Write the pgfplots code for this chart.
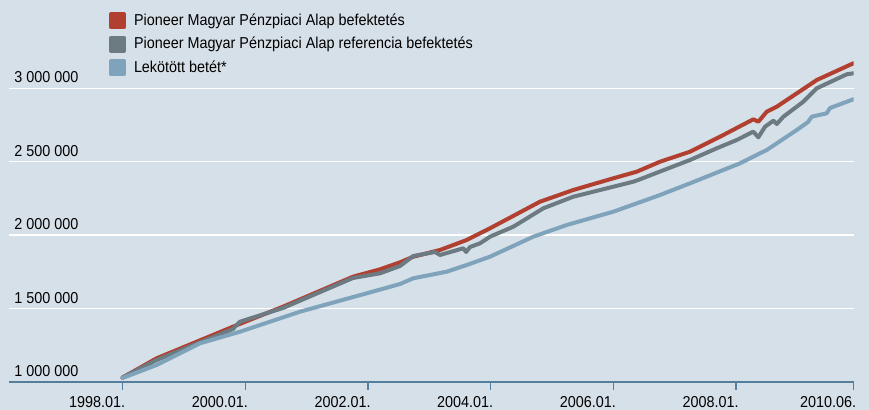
\documentclass[border=0pt]{standalone}
\usepackage{fontspec}
\setmainfont{Liberation Sans}[FakeStretch=0.91]
\usepackage{pgfplots}
\pgfplotsset{compat=1.18}
\definecolor{bg}{RGB}{214,224,232}
\definecolor{redc}{RGB}{178,64,48}
\definecolor{greyc}{RGB}{108,122,130}
\definecolor{bluec}{RGB}{127,163,186}
\definecolor{axisc}{RGB}{84,128,156}

\begin{document}
\fontsize{7.9}{9.5}\selectfont
\begin{tikzpicture}
\fill[bg] (0,0) rectangle (434.5pt,205pt);
\path[use as bounding box] (0,0) rectangle (434.5pt,205pt);
\begin{axis}[
  at={(4.5pt,14pt)}, anchor=south west,
  scale only axis, width=422.25pt, height=190.9pt,
  xmin=1996.150, xmax=2009.915,
  ymin=1000000, ymax=3600000,
  axis x line*=bottom, axis y line*=left,
  y axis line style={draw=none},
  x axis line style={axisc, line width=0.65pt},
  ytick={1000000,1500000,2000000,2500000,3000000},
  yticklabels={1 000 000,1 500 000,2 000 000,2 500 000,3 000 000},
  ymajorgrids, major grid style={white, line width=0.65pt},
  ytick style={draw=none},
  xtick={1998,2000,2002,2004,2006,2008,2009.915},
  xticklabels={1998.01.,2000.01.,2002.01.,2004.01.,2006.01.,2008.01.,2010.06.},
  tick align=outside, major tick length=4pt,
  xtick style={axisc, line width=0.65pt},
  xticklabel style={anchor=north east, inner sep=0pt, xshift=1.5pt, yshift=-3pt},
  yticklabel style={anchor=south west, inner sep=0pt, xshift=6.5pt, yshift=2.5pt},
  scaled ticks=false,
  legend style={at={(axis cs:1997.78,3517600)}, anchor=north west, draw=none, fill=none,
    inner sep=0pt, outer sep=0pt, row sep=3.25pt,
    nodes={inner sep=0pt, text height=6.5pt, text depth=2pt}},
  legend cell align=left,
  legend image code/.code={\fill[#1] (0pt,-3.25pt) rectangle (6.5pt,3.25pt); \path (10.5pt,0pt);},
  every axis plot/.append style={line width=2pt, line join=round, line cap=round},
]
\addplot[color=redc] coordinates {
(1998.000,1030000) (1998.557,1161400) (1999.801,1376600) (2000.616,1512800)
(2001.757,1717100) (2002.198,1767400) (2002.524,1815100) (2002.740,1853300)
(2003.175,1898900) (2003.611,1967000) (2003.990,2046700) (2004.805,2227800)
(2005.348,2307500) (2006.000,2387100) (2006.382,2432100) (2006.762,2500200)
(2007.251,2568300) (2007.740,2670400) (2008.282,2788900) (2008.364,2772600)
(2008.501,2840700) (2008.664,2874700) (2009.153,3010900) (2009.316,3056500)
(2009.913,3170300)
};
\addlegendentry{Pioneer Magyar Pénzpiaci Alap befektetés}
\addplot[color=greyc] coordinates {
(1998.000,1030000) (1998.557,1149800) (1999.801,1360900) (1999.915,1410600)
(2000.616,1503900) (2001.757,1708200) (2002.198,1740200) (2002.524,1789900)
(2002.740,1858000) (2003.094,1885300) (2003.175,1864800) (2003.555,1910500)
(2003.600,1885300) (2003.665,1919300) (2003.828,1944500) (2003.990,1989400)
(2004.370,2057500) (2004.859,2182800) (2005.348,2261800) (2006.000,2329900)
(2006.326,2364000) (2006.435,2380300) (2006.762,2433400) (2007.251,2511800)
(2007.686,2591400) (2008.012,2648000) (2008.282,2704500) (2008.364,2666300)
(2008.473,2738500) (2008.609,2779400) (2008.664,2756900) (2008.772,2806600)
(2009.098,2908800) (2009.316,3000000) (2009.805,3095300) (2009.913,3102100)
};
\addlegendentry{Pioneer Magyar Pénzpiaci Alap referencia befektetés}
\addplot[color=bluec] coordinates {
(1998.000,1027200) (1998.557,1115800) (1999.264,1263500) (1999.915,1342500)
(2000.894,1478700) (2001.981,1604000) (2002.524,1667400) (2002.740,1706200)
(2003.285,1751100) (2003.611,1796700) (2003.990,1853300) (2004.696,1989400)
(2005.241,2069100) (2006.000,2159700) (2006.762,2273400) (2007.251,2353100)
(2008.066,2489300) (2008.501,2579900) (2008.990,2716100) (2009.174,2770500)
(2009.234,2806600) (2009.478,2829800) (2009.532,2865900) (2009.913,2925100)
};
\addlegendentry{Lekötött betét*}
\end{axis}
\end{tikzpicture}
\end{document}
